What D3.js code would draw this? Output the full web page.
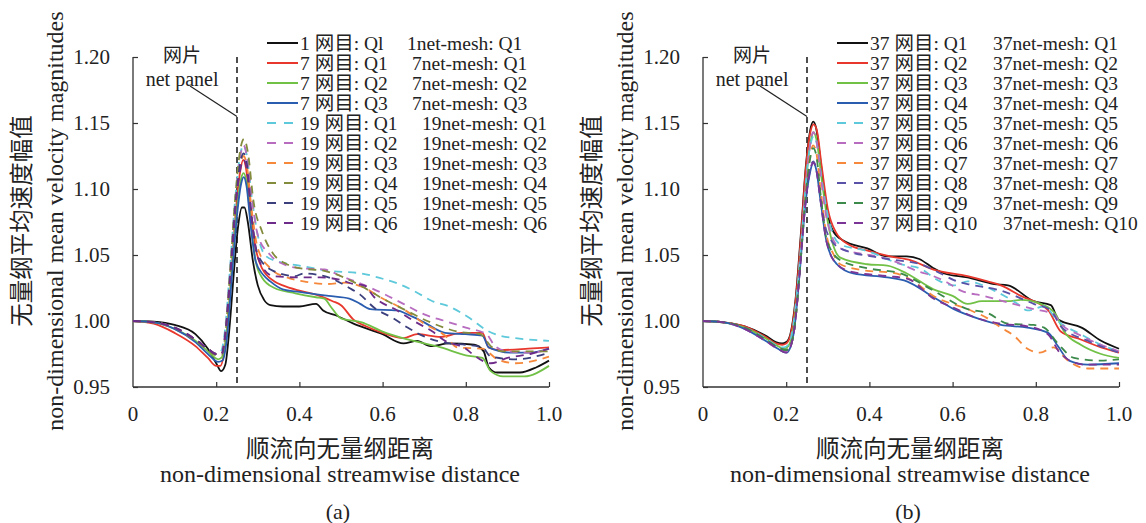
<!DOCTYPE html>
<html><head><meta charset="utf-8">
<script src="https://cdn.jsdelivr.net/npm/d3@7"></script>
<style>
body{margin:0;background:#fff;}
svg{display:block;}
text{font-family:"Liberation Serif","Times New Roman","Noto Sans CJK SC",serif;fill:#222;}
</style></head><body>
<svg id="c" width="1146" height="523"></svg>
<script>
// ---------- tick labels ----------
const xTicks = [0, 0.2, 0.4, 0.6, 0.8, 1.0];
const xTickLabels = ["0", "0.2", "0.4", "0.6", "0.8", "1.0"];
const yTicks = [0.95, 1.00, 1.05, 1.10, 1.15, 1.20];
const yTickLabels = ["0.95", "1.00", "1.05", "1.10", "1.15", "1.20"];

// ---------- panel (a) series ----------
const aNamesCN = ["1 网目: Ql","7 网目: Q1","7 网目: Q2","7 网目: Q3","19 网目: Q1","19 网目: Q2","19 网目: Q3","19 网目: Q4","19 网目: Q5","19 网目: Q6"];
const aNamesEN = ["1net-mesh: Q1","7net-mesh: Q1","7net-mesh: Q2","7net-mesh: Q3","19net-mesh: Q1","19net-mesh: Q2","19net-mesh: Q3","19net-mesh: Q4","19net-mesh: Q5","19net-mesh: Q6"];

const a_1_Q1 = [[0,1.000],[0.05,0.9995],[0.10,0.997],[0.15,0.990],[0.18,0.979],[0.20,0.968],[0.212,0.962],[0.222,0.967],[0.232,0.995],[0.242,1.035],[0.252,1.070],[0.262,1.086],[0.268,1.086],[0.276,1.075],[0.288,1.046],[0.30,1.027],[0.315,1.016],[0.33,1.012],[0.36,1.011],[0.40,1.011],[0.44,1.013],[0.457,1.008],[0.49,1.004],[0.53,0.998],[0.60,0.990],[0.65,0.983],[0.683,0.985],[0.715,0.981],[0.76,0.983],[0.82,0.982],[0.843,0.977],[0.855,0.965],[0.875,0.961],[0.93,0.961],[0.97,0.965],[1.0,0.970]];
const a_7_Q1 = [[0,1.000],[0.05,0.998],[0.10,0.991],[0.15,0.981],[0.18,0.972],[0.20,0.966],[0.21,0.966],[0.22,0.978],[0.232,1.015],[0.245,1.075],[0.257,1.112],[0.265,1.122],[0.272,1.115],[0.282,1.085],[0.295,1.055],[0.31,1.040],[0.34,1.030],[0.36,1.027],[0.40,1.023],[0.44,1.020],[0.48,1.015],[0.50,1.012],[0.53,1.001],[0.56,0.996],[0.60,0.991],[0.65,0.987],[0.683,0.990],[0.74,0.988],[0.79,0.991],[0.84,0.991],[0.855,0.980],[0.88,0.978],[0.95,0.979],[1.0,0.980]];
const a_7_Q2 = [[0,1.000],[0.05,0.999],[0.10,0.994],[0.15,0.985],[0.18,0.977],[0.205,0.971],[0.215,0.973],[0.225,0.990],[0.238,1.040],[0.25,1.085],[0.26,1.108],[0.266,1.112],[0.273,1.105],[0.283,1.075],[0.295,1.045],[0.31,1.033],[0.34,1.025],[0.39,1.021],[0.44,1.018],[0.46,1.017],[0.475,1.011],[0.50,1.002],[0.55,0.999],[0.60,0.992],[0.66,0.986],[0.74,0.980],[0.80,0.974],[0.84,0.972],[0.86,0.962],[0.89,0.958],[0.94,0.958],[1.0,0.966]];
const a_7_Q3 = [[0,1.000],[0.05,0.999],[0.10,0.994],[0.15,0.984],[0.18,0.975],[0.205,0.969],[0.215,0.970],[0.225,0.985],[0.238,1.035],[0.25,1.080],[0.26,1.104],[0.266,1.109],[0.273,1.102],[0.283,1.072],[0.295,1.045],[0.313,1.035],[0.33,1.030],[0.36,1.024],[0.40,1.022],[0.47,1.019],[0.52,1.017],[0.546,1.013],[0.57,1.009],[0.635,1.008],[0.66,1.005],[0.70,0.999],[0.75,0.991],[0.80,0.990],[0.84,0.989],[0.855,0.980],[0.91,0.976],[0.955,0.976],[1.0,0.979]];
const a_19_Q1 = [[0,1.000],[0.05,0.999],[0.10,0.995],[0.15,0.986],[0.18,0.979],[0.20,0.975],[0.21,0.976],[0.22,0.990],[0.232,1.035],[0.245,1.090],[0.257,1.125],[0.266,1.133],[0.274,1.125],[0.285,1.095],[0.30,1.065],[0.32,1.049],[0.35,1.045],[0.40,1.042],[0.47,1.038],[0.55,1.036],[0.60,1.032],[0.64,1.028],[0.68,1.022],[0.72,1.015],[0.76,1.011],[0.81,1.002],[0.85,0.993],[0.88,0.989],[0.92,0.987],[1.0,0.985]];
const a_19_Q2 = [[0,1.000],[0.05,0.999],[0.10,0.995],[0.15,0.986],[0.18,0.979],[0.20,0.975],[0.213,0.975],[0.222,0.992],[0.234,1.040],[0.247,1.095],[0.258,1.125],[0.266,1.133],[0.274,1.124],[0.285,1.095],[0.30,1.065],[0.33,1.050],[0.37,1.042],[0.40,1.040],[0.46,1.039],[0.50,1.034],[0.55,1.028],[0.60,1.021],[0.65,1.013],[0.70,1.005],[0.75,1.000],[0.80,0.995],[0.85,0.990],[0.87,0.981],[0.90,0.977],[0.95,0.976],[1.0,0.978]];
const a_19_Q3 = [[0,1.000],[0.05,0.999],[0.10,0.995],[0.15,0.986],[0.18,0.979],[0.20,0.975],[0.213,0.975],[0.222,0.990],[0.234,1.035],[0.247,1.090],[0.258,1.118],[0.266,1.125],[0.274,1.117],[0.285,1.085],[0.30,1.055],[0.33,1.040],[0.37,1.033],[0.41,1.030],[0.466,1.028],[0.51,1.029],[0.55,1.026],[0.60,1.017],[0.65,1.009],[0.70,0.998],[0.75,0.989],[0.78,0.980],[0.84,0.979],[0.876,0.971],[0.92,0.968],[1.0,0.973]];
const a_19_Q4 = [[0,1.000],[0.05,0.999],[0.10,0.995],[0.15,0.985],[0.18,0.978],[0.20,0.974],[0.213,0.974],[0.222,0.990],[0.234,1.040],[0.247,1.098],[0.258,1.130],[0.267,1.138],[0.276,1.128],[0.29,1.090],[0.31,1.068],[0.337,1.051],[0.37,1.043],[0.40,1.040],[0.46,1.038],[0.54,1.028],[0.60,1.017],[0.65,1.009],[0.715,0.999],[0.78,0.992],[0.835,0.990],[0.86,0.981],[0.89,0.977],[1.0,0.977]];
const a_19_Q5 = [[0,1.000],[0.05,0.999],[0.10,0.995],[0.15,0.986],[0.18,0.979],[0.20,0.975],[0.213,0.975],[0.222,0.990],[0.234,1.035],[0.247,1.090],[0.258,1.120],[0.266,1.127],[0.274,1.118],[0.285,1.080],[0.30,1.050],[0.337,1.038],[0.39,1.034],[0.41,1.036],[0.47,1.033],[0.52,1.025],[0.546,1.020],[0.58,1.010],[0.626,1.002],[0.66,0.995],[0.71,0.987],[0.76,0.983],[0.80,0.982],[0.84,0.980],[0.86,0.973],[0.92,0.971],[1.0,0.976]];
const a_19_Q6 = [[0,1.000],[0.05,0.999],[0.10,0.995],[0.15,0.986],[0.18,0.979],[0.20,0.975],[0.213,0.975],[0.222,0.990],[0.234,1.035],[0.247,1.088],[0.258,1.115],[0.266,1.122],[0.274,1.114],[0.285,1.078],[0.30,1.048],[0.337,1.034],[0.40,1.033],[0.45,1.033],[0.50,1.031],[0.53,1.028],[0.555,1.027],[0.58,1.018],[0.635,1.008],[0.675,1.000],[0.72,0.992],[0.75,0.985],[0.80,0.979],[0.82,0.974],[0.86,0.968],[0.90,0.972],[0.955,0.975],[1.0,0.979]];
const aValues = [a_1_Q1,a_7_Q1,a_7_Q2,a_7_Q3,a_19_Q1,a_19_Q2,a_19_Q3,a_19_Q4,a_19_Q5,a_19_Q6];
const aColors = ["#111111","#e8372c","#72c147","#2a5db0","#5ec9da","#b86cc0","#f5883a","#838b3c","#3b3f7c","#6e2c8a"];
const aDashed = [false,false,false,false,true,true,true,true,true,true];

// ---------- panel (b) series ----------
const bNamesCN = ["37 网目: Q1","37 网目: Q2","37 网目: Q3","37 网目: Q4","37 网目: Q5","37 网目: Q6","37 网目: Q7","37 网目: Q8","37 网目: Q9","37 网目: Q10"];
const bNamesEN = ["37net-mesh: Q1","37net-mesh: Q2","37net-mesh: Q3","37net-mesh: Q4","37net-mesh: Q5","37net-mesh: Q6","37net-mesh: Q7","37net-mesh: Q8","37net-mesh: Q9","37net-mesh: Q10"];

const b_Q1 = [[0,1.000],[0.05,0.999],[0.10,0.996],[0.15,0.989],[0.175,0.984],[0.19,0.983],[0.20,0.984],[0.21,0.990],[0.222,1.015],[0.235,1.065],[0.248,1.120],[0.258,1.145],[0.265,1.151],[0.272,1.146],[0.283,1.120],[0.297,1.085],[0.313,1.068],[0.337,1.061],[0.395,1.055],[0.443,1.049],[0.49,1.049],[0.52,1.047],[0.554,1.040],[0.58,1.036],[0.636,1.033],[0.70,1.028],[0.733,1.027],[0.795,1.015],[0.836,1.012],[0.855,1.001],[0.91,0.995],[0.957,0.985],[1.0,0.979]];
const b_Q2 = [[0,1.000],[0.05,0.999],[0.10,0.996],[0.15,0.988],[0.175,0.983],[0.19,0.982],[0.20,0.983],[0.21,0.989],[0.222,1.013],[0.235,1.062],[0.248,1.118],[0.258,1.143],[0.266,1.149],[0.274,1.144],[0.285,1.118],[0.30,1.085],[0.32,1.067],[0.35,1.058],[0.40,1.053],[0.45,1.049],[0.50,1.046],[0.554,1.039],[0.636,1.034],[0.684,1.030],[0.716,1.027],[0.764,1.019],[0.83,1.008],[0.86,0.992],[0.908,0.986],[0.957,0.980],[1.0,0.976]];
const b_Q3 = [[0,1.000],[0.05,0.999],[0.10,0.995],[0.15,0.987],[0.18,0.981],[0.195,0.979],[0.205,0.981],[0.215,0.990],[0.227,1.020],[0.24,1.070],[0.252,1.120],[0.26,1.138],[0.266,1.143],[0.273,1.137],[0.285,1.108],[0.30,1.075],[0.33,1.048],[0.395,1.043],[0.443,1.042],[0.49,1.036],[0.554,1.024],[0.60,1.019],[0.636,1.013],[0.67,1.015],[0.733,1.015],[0.764,1.016],[0.812,1.013],[0.848,1.005],[0.868,0.992],[0.908,0.982],[0.957,0.975],[1.0,0.972]];
const b_Q4 = [[0,1.000],[0.05,0.999],[0.10,0.994],[0.15,0.985],[0.18,0.979],[0.20,0.976],[0.21,0.980],[0.22,0.995],[0.232,1.035],[0.245,1.085],[0.257,1.112],[0.265,1.120],[0.272,1.115],[0.283,1.090],[0.297,1.060],[0.322,1.043],[0.361,1.036],[0.443,1.033],[0.49,1.030],[0.554,1.018],[0.603,1.009],[0.66,1.002],[0.716,0.997],[0.78,0.995],[0.83,0.991],[0.853,0.981],[0.88,0.970],[0.925,0.967],[1.0,0.968]];
const b_Q5 = [[0,1.000],[0.05,0.999],[0.10,0.995],[0.15,0.987],[0.18,0.981],[0.195,0.980],[0.205,0.982],[0.215,0.993],[0.227,1.025],[0.24,1.075],[0.252,1.120],[0.26,1.136],[0.266,1.140],[0.273,1.135],[0.285,1.108],[0.30,1.080],[0.33,1.058],[0.395,1.053],[0.475,1.043],[0.52,1.040],[0.57,1.030],[0.603,1.027],[0.636,1.030],[0.70,1.023],[0.756,1.013],[0.78,1.008],[0.82,1.011],[0.853,1.000],[0.908,0.990],[0.957,0.982],[1.0,0.977]];
const b_Q6 = [[0,1.000],[0.05,0.999],[0.10,0.994],[0.15,0.985],[0.18,0.979],[0.20,0.977],[0.21,0.981],[0.22,0.995],[0.232,1.035],[0.245,1.095],[0.256,1.130],[0.265,1.143],[0.272,1.138],[0.283,1.110],[0.297,1.078],[0.33,1.055],[0.40,1.050],[0.443,1.047],[0.523,1.037],[0.554,1.034],[0.588,1.029],[0.62,1.023],[0.675,1.019],[0.733,1.014],[0.795,1.009],[0.843,1.005],[0.86,0.998],[0.908,0.989],[1.0,0.977]];
const b_Q7 = [[0,1.000],[0.05,0.999],[0.10,0.995],[0.15,0.986],[0.18,0.980],[0.20,0.978],[0.21,0.981],[0.22,0.995],[0.232,1.035],[0.245,1.090],[0.256,1.122],[0.265,1.133],[0.272,1.128],[0.283,1.098],[0.297,1.065],[0.313,1.051],[0.33,1.043],[0.395,1.038],[0.443,1.037],[0.475,1.035],[0.506,1.030],[0.554,1.019],[0.636,1.009],[0.684,1.002],[0.716,0.995],[0.747,0.989],[0.78,0.979],[0.81,0.976],[0.843,0.980],[0.877,0.970],[0.925,0.964],[1.0,0.964]];
const b_Q8 = [[0,1.000],[0.05,0.999],[0.10,0.995],[0.15,0.986],[0.18,0.980],[0.20,0.978],[0.21,0.981],[0.22,0.995],[0.232,1.035],[0.245,1.085],[0.256,1.113],[0.265,1.121],[0.272,1.116],[0.283,1.092],[0.297,1.068],[0.33,1.055],[0.443,1.047],[0.523,1.043],[0.571,1.036],[0.603,1.031],[0.636,1.028],[0.716,1.023],[0.795,1.013],[0.836,1.008],[0.86,0.996],[0.925,0.985],[1.0,0.976]];
const b_Q9 = [[0,1.000],[0.05,0.999],[0.10,0.995],[0.15,0.986],[0.18,0.980],[0.20,0.978],[0.21,0.981],[0.22,0.995],[0.232,1.035],[0.245,1.088],[0.256,1.120],[0.265,1.131],[0.272,1.126],[0.283,1.095],[0.297,1.062],[0.33,1.046],[0.395,1.040],[0.475,1.036],[0.554,1.023],[0.636,1.009],[0.684,1.006],[0.733,0.998],[0.795,0.997],[0.82,0.995],[0.853,0.983],[0.892,0.972],[0.957,0.970],[1.0,0.971]];
const b_Q10 = [[0,1.000],[0.05,0.999],[0.10,0.994],[0.15,0.985],[0.18,0.979],[0.20,0.976],[0.21,0.980],[0.22,0.995],[0.232,1.035],[0.245,1.085],[0.256,1.112],[0.265,1.120],[0.272,1.115],[0.283,1.090],[0.297,1.060],[0.322,1.043],[0.361,1.037],[0.443,1.034],[0.492,1.032],[0.554,1.017],[0.603,1.010],[0.66,1.002],[0.716,0.998],[0.78,0.996],[0.829,0.990],[0.86,0.975],[0.916,0.967],[1.0,0.967]];
const bValues = [b_Q1,b_Q2,b_Q3,b_Q4,b_Q5,b_Q6,b_Q7,b_Q8,b_Q9,b_Q10];
const bColors = ["#111111","#e8372c","#72c147","#2a5db0","#5ec9da","#b86cc0","#f5883a","#5a52a8","#3c8a4a","#7b3596"];
const bDashed = [false,false,false,false,true,true,true,true,true,true];

const netPanelX = 0.25;

// ---------- drawing ----------
const svg = d3.select("#c");
const W = 416, TOP = 57, BOT = 387;

function panel(ox, namesCN, namesEN, values, colors, dashed, enX, tag) {
  const g = svg.append("g").attr("transform", `translate(${ox},0)`);
  const x = d3.scaleLinear().domain([0, 1]).range([0, W]);
  const y = d3.scaleLinear().domain([0.95, 1.20]).range([BOT, TOP]);

  // axes
  const xa = g.append("g").attr("transform", `translate(0,${BOT})`)
    .call(d3.axisBottom(x).tickValues(xTicks.slice(1)).tickSize(-5).tickFormat(""));
  const ya = g.append("g").call(d3.axisLeft(y).tickValues(yTicks).tickSize(-5).tickFormat(""));
  [xa, ya].forEach(a => {
    a.select(".domain").attr("stroke", "#333").attr("stroke-width", 1.3);
    a.selectAll(".tick line").attr("stroke", "#333").attr("stroke-width", 1.2);
  });
  xa.select(".domain").attr("d", `M0,0H${W}`);
  ya.select(".domain").attr("d", `M0,${BOT}V${TOP}`);

  g.selectAll(".xl").data(xTicks).join("text")
    .attr("x", d => x(d)).attr("y", 421).attr("text-anchor", "middle")
    .attr("font-size", 21).text((d, i) => xTickLabels[i]);
  g.selectAll(".yl").data(yTicks).join("text")
    .attr("x", -23).attr("y", d => y(d) + 7).attr("text-anchor", "end")
    .attr("font-size", 21).text((d, i) => yTickLabels[i]);

  // titles
  g.append("text").attr("x", 207).attr("y", 457).attr("text-anchor", "middle")
    .attr("font-size", 23.5).text("顺流向无量纲距离");
  g.append("text").attr("x", 207).attr("y", 482).attr("text-anchor", "middle")
    .attr("font-size", 23).attr("textLength", 360).attr("lengthAdjust", "spacingAndGlyphs")
    .text("non-dimensional streamwise distance");
  g.append("text").attr("x", 205).attr("y", 519).attr("text-anchor", "middle")
    .attr("font-size", 22).text(tag);
  g.append("text").attr("transform", `translate(-103,221) rotate(-90)`).attr("text-anchor", "middle")
    .attr("font-size", 23.5).text("无量纲平均速度幅值");
  g.append("text").attr("transform", `translate(-70,221) rotate(-90)`).attr("text-anchor", "middle")
    .attr("font-size", 24).text("non-dimensional mean velocity magnitudes");

  // net panel marker
  g.append("line").attr("x1", x(netPanelX)).attr("x2", x(netPanelX))
    .attr("y1", y(1.20)).attr("y2", BOT)
    .attr("stroke", "#222").attr("stroke-width", 1.6).attr("stroke-dasharray", "6,4");
  g.append("line").attr("x1", x(0.137)).attr("y1", y(1.178))
    .attr("x2", x(netPanelX)).attr("y2", y(1.155)).attr("stroke", "#222").attr("stroke-width", 1.2);
  g.append("text").attr("x", x(0.118)).attr("y", 62).attr("text-anchor", "middle")
    .attr("font-size", 19).attr("fill", "#333").text("网片");
  g.append("text").attr("x", x(0.118)).attr("y", 86).attr("text-anchor", "middle")
    .attr("font-size", 20).text("net panel");

  // curves
  const line = d3.line().x(d => x(d[0])).y(d => y(d[1])).curve(d3.curveMonotoneX);
  values.forEach((v, i) => {
    g.append("path").attr("d", line(v)).attr("fill", "none")
      .attr("stroke", colors[i]).attr("stroke-width", 1.8)
      .attr("stroke-dasharray", dashed[i] ? "8,6" : null);
  });

  // legend
  namesCN.forEach((n, i) => {
    const yy = 43 + i * 20;
    g.append("line").attr("x1", 134).attr("x2", 165).attr("y1", yy).attr("y2", yy)
      .attr("stroke", colors[i]).attr("stroke-width", 2)
      .attr("stroke-dasharray", dashed[i] ? "9,8" : null);
    g.append("text").attr("x", 167).attr("y", yy + 7).attr("font-size", 19.5).text(n);
    g.append("text").attr("x", enX[i]).attr("y", yy + 7).attr("font-size", 19.5).text(namesEN[i]);
  });
}

panel(133, aNamesCN, aNamesEN, aValues, aColors, aDashed,
  [274,279,279,279,289,289,289,289,289,289], "(a)");
panel(703, bNamesCN, bNamesEN, bValues, bColors, bDashed,
  [290,290,290,290,290,290,290,290,290,300], "(b)");
</script>
</body></html>
